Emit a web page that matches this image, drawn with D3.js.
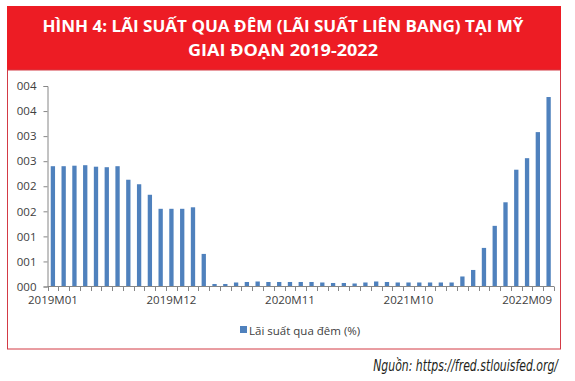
<!DOCTYPE html>
<html><head><meta charset="utf-8">
<script src="https://cdn.jsdelivr.net/npm/d3@7/dist/d3.min.js"></script>
<style>
html,body{margin:0;padding:0;background:#fff;}
svg{display:block;}
</style>
</head><body>
<script>
const months = [
 "2019M01","2019M02","2019M03","2019M04","2019M05","2019M06","2019M07","2019M08","2019M09","2019M10","2019M11","2019M12",
 "2020M01","2020M02","2020M03","2020M04","2020M05","2020M06","2020M07","2020M08","2020M09","2020M10","2020M11","2020M12",
 "2021M01","2021M02","2021M03","2021M04","2021M05","2021M06","2021M07","2021M08","2021M09","2021M10","2021M11","2021M12",
 "2022M01","2022M02","2022M03","2022M04","2022M05","2022M06","2022M07","2022M08","2022M09","2022M10","2022M11"];
const rates = [
 2.40,2.40,2.41,2.42,2.39,2.38,2.40,2.13,2.04,1.83,1.55,1.55,
 1.55,1.58,0.65,0.05,0.05,0.08,0.09,0.10,0.09,0.09,0.09,0.09,
 0.09,0.08,0.07,0.07,0.06,0.08,0.10,0.09,0.08,0.08,0.08,0.08,
 0.08,0.08,0.20,0.33,0.77,1.21,1.68,2.33,2.56,3.08,3.78];
const xLabels = ["2019M01","2019M12","2020M11","2021M10","2022M09"];
const yTicks = [0,0.5,1,1.5,2,2.5,3,3.5,4];
const yTickLabels = ["000","001","001","002","002","003","003","004","004"];
const titleLines = ["HÌNH 4: LÃI SUẤT QUA ĐÊM (LÃI SUẤT LIÊN BANG) TẠI MỸ","GIAI ĐOẠN 2019-2022"];
const seriesName = "Lãi suất qua đêm (%)";
const sourceText = "Nguồn: https://fred.stlouisfed.org/";

const W = 575, H = 381;
const svg = d3.select("body").append("svg").attr("width", W).attr("height", H);

// banner
svg.append("rect").attr("x",7).attr("y",6).attr("width",554).attr("height",64).attr("fill","#ED1C24");
const tl = [{t:titleLines[0], y:32, len:481},{t:titleLines[1], y:56, len:190}];
svg.selectAll("text.title").data(tl).enter().append("text")
  .attr("x",283).attr("y",d=>d.y).attr("text-anchor","middle")
  .attr("fill","#fff").attr("font-family","'Open Sans', sans-serif").attr("font-weight","bold")
  .attr("font-size",16.5).attr("textLength",d=>d.len).attr("lengthAdjust","spacingAndGlyphs")
  .text(d=>d.t);

// chart frame
svg.append("rect").attr("x",7.5).attr("y",70).attr("width",553).attr("height",279)
  .attr("fill","none").attr("stroke","#D33A45").attr("stroke-width",1);

const x = d3.scaleBand().domain(months).range([47.5,554]).paddingInner(0.6).paddingOuter(0.3);
const y = d3.scaleLinear().domain([0,4]).range([286.5,86]);

// bars
svg.append("g").selectAll("rect").data(months).enter().append("rect")
  .attr("x",d=>x(d)).attr("width",x.bandwidth())
  .attr("y",(d,i)=>y(rates[i])).attr("height",(d,i)=>y(0)-y(rates[i]))
  .attr("fill","#4F81BD");

// y axis
const yAxis = d3.axisLeft(y).tickValues(yTicks).tickSize(4).tickPadding(7)
  .tickFormat((d,i)=>yTickLabels[i]);
const gy = svg.append("g").attr("transform","translate(47.5,0)").call(yAxis);
gy.select(".domain").attr("stroke","#868686");
gy.selectAll(".tick line").attr("stroke","#868686");
gy.selectAll("text").attr("font-family","'Open Sans', sans-serif").attr("font-size",11.5).attr("fill","#404040");

// x axis: ticks at band boundaries, labels at band centers
const x0 = 47.5;
const gx = svg.append("g");
gx.append("line").attr("x1",x0).attr("x2",554).attr("y1",286.5).attr("y2",286.5).attr("stroke","#868686");
const bounds = d3.range(months.length+1).map(i=>x0 + i*(554-x0)/months.length);
gx.selectAll("line.tk").data(bounds).enter().append("line")
  .attr("x1",d=>Math.round(d)+0.5).attr("x2",d=>Math.round(d)+0.5).attr("y1",286.5).attr("y2",291)
  .attr("stroke","#868686");
gx.selectAll("text").data(xLabels).enter().append("text")
  .attr("x",d=>x(d)+x.bandwidth()/2).attr("y",304).attr("text-anchor","middle")
  .attr("font-family","'Open Sans', sans-serif").attr("font-size",11.5).attr("fill","#404040")
  .text(d=>d);

// legend
svg.append("rect").attr("x",240).attr("y",326).attr("width",7).attr("height",7).attr("fill","#4F81BD");
svg.append("text").attr("x",249).attr("y",334.5).attr("font-family","'Open Sans', sans-serif")
  .attr("font-size",11.5).attr("fill","#404040").text(seriesName);

// source (condensed italic, scaled horizontally to fit)
const src = svg.append("text").attr("x",0).attr("y",0).attr("text-anchor","end")
  .attr("font-family","'DejaVu Sans Condensed','DejaVu Sans', sans-serif").attr("font-style","italic")
  .attr("font-stretch","condensed")
  .attr("font-size",15.5).attr("fill","#231F20")
  .text(sourceText);
const srcW = src.node().getComputedTextLength();
const sx = 185 / srcW;
src.attr("transform",`translate(558,371) scale(${sx},1)`);
</script>
</body></html>
